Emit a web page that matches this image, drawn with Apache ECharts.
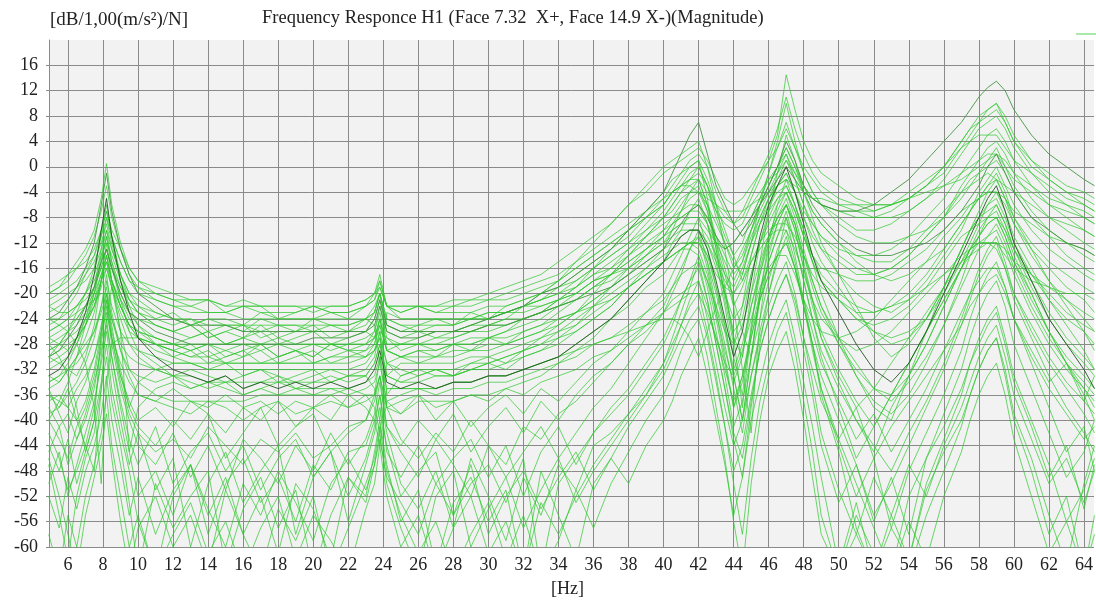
<!DOCTYPE html>
<html><head><meta charset="utf-8">
<script src="https://cdn.jsdelivr.net/npm/echarts@6/dist/echarts.min.js"></script>
<style>html,body{margin:0;padding:0;background:#fff}#c{width:1096px;height:603px}</style>
</head><body><div id="c"></div>
<script>
const freqHz = [4.9,5.5,6,6.5,7,7.5,7.9,8.2,8.5,9,
9.5,10,11,12,13,14,15,16,17,18,
19,20,21,22,23,23.5,23.8,24.2,25,26,
27,28,29,30,31,32,33,34,35,36,
37,38,39,40,40.5,41,41.5,42,42.5,43,
43.5,44,44.5,45,45.5,46,46.5,47,47.5,48,
48.5,49,50,51,52,53,54,55,56,57,
57.5,58,58.5,59,59.5,60,61,62,63,64,64.6];
const xTickLabels = [6,8,10,12,14,16,18,20,22,24,26,28,30,32,34,36,38,40,42,44,46,48,50,52,54,56,58,60,62,64];

const s01 = [-26,-25,-24,-22,-20,-17,-14,-12,-14,-18,
-21,-23,-25,-26,-27,-26,-28,-27,-26,-28,
-27,-26,-28,-27,-26,-27,-26,-27,-28,-27,
-26,-26,-25,-24,-23,-22,-21,-19,-17,-15,
-13,-11,-8,-5,-3,-1,1,2,0,-4,
-7,-9,-8,-5,-2,1,5,14.5,9,4,
1,-1,-3,-5,-6,-6,-5,-3,-1,3,
5,7,9,10,7,4,0,-2,-4,-5,-6];
const s02 = [-30,-29,-27,-25,-22,-19,-15,-13,-16,-20,
-23,-24,-26,-27,-28,-28,-28,-28,-28,-28,
-28,-27,-27,-27,-26,-25,-22,-26,-27,-27,
-26,-26,-25,-24,-23,-22,-20,-19,-17,-15,
-13,-10,-7,-4,-1,2,5,7,2,-3,
-6,-9,-11,-9,-6,-3,0,4,1,-3,
-6,-8,-11,-13,-14,-14,-13,-12,-10,-7,
-5,-3,0,2,-1,-4,-8,-10,-12,-13,-14];
const s03 = [-20,-19,-17,-15,-13,-10,-5,0.5,-6,-12,
-16,-18,-20,-21,-22,-21,-23,-22,-22,-24,
-23,-22,-23,-24,-22,-21,-18,-22,-23,-22,
-23,-23,-23,-22,-22,-21,-20,-19,-18,-16,
-14,-12,-10,-8,-6,-4,-2,0,-3,-8,
-12,-16,-14,-10,-6,-3,0,3,0,-4,
-7,-9,-12,-15,-17,-18,-17,-15,-13,-9,
-7,-4,-2,0,-3,-6,-10,-13,-15,-17,-18];
const s04 = [-24,-23,-21,-19,-16,-12,-6,-1,-7,-13,
-17,-20,-22,-24,-25,-25,-25,-26,-26,-26,
-26,-26,-26,-26,-26,-24,-21,-25,-26,-26,
-26,-26,-26,-25,-25,-24,-23,-22,-21,-20,
-19,-17,-15,-13,-11,-9,-7,-6,-8,-11,
-13,-12,-10,-8,-6,-4,-2,0,-2,-4,
-5,-6,-7,-7,-6,-4,-2,1,4,7,
9,11,12.5,13.5,12,9,5,2,0,-2,-3];
const s05 = [-28,-27,-26,-24,-22,-19,-16,-13,-16,-20,
-23,-25,-27,-28,-29,-28,-30,-29,-28,-30,
-29,-30,-28,-29,-28,-26,-22,-27,-29,-28,
-29,-28,-28,-27,-26,-25,-24,-22,-20,-18,
-16,-13,-10,-7,-5,-3,-1,0,-3,-7,
-11,-14,-12,-8,-5,-1,3,7,3,-1,
-4,-6,-9,-11,-12,-12,-11,-10,-8,-5,
-3,-1,1,3,0,-3,-7,-10,-12,-14,-15];
const s06 = [-32,-31,-30,-28,-25,-21,-17,-14,-18,-22,
-25,-27,-28,-29,-30,-30,-31,-31,-31,-31,
-31,-31,-30,-30,-30,-28,-24,-29,-30,-30,
-30,-30,-29,-29,-28,-27,-26,-25,-23,-21,
-19,-17,-14,-11,-9,-7,-5,-4,-6,-9,
-12,-15,-17,-12,-6,-1,4,10,4,-1,
-4,-6,-8,-10,-10,-9,-7,-5,-2,2,
4,6,7,8,6,3,-1,-4,-6,-8,-9];
const s07 = [-22,-21,-20,-19,-18,-16,-13,-10,-13,-17,
-20,-21,-23,-24,-24,-25,-25,-25,-25,-25,
-25,-25,-25,-25,-24,-23,-20,-24,-25,-25,
-25,-25,-24,-24,-23,-22,-21,-20,-18,-16,
-14,-12,-9,-6,-4,-2,0,1,-2,-6,
-10,-14,-18,-14,-9,-5,-2,1,-2,-6,
-9,-11,-14,-16,-17,-16,-14,-11,-8,-3,
-1,1,3,4,2,-1,-5,-8,-10,-12,-13];
const s08 = [-34,-33,-31,-28,-24,-19,-13,-8,-12,-18,
-22,-25,-28,-30,-31,-32,-31,-33,-32,-34,
-33,-32,-34,-33,-32,-30,-26,-31,-33,-32,
-33,-33,-32,-32,-31,-30,-29,-27,-25,-22,
-19,-16,-13,-10,-8,-6,-4,-3,-7,-13,
-20,-27,-30,-20,-12,-7,-3,-1,-4,-8,
-12,-15,-19,-23,-26,-28,-27,-24,-19,-13,
-10,-7,-4,-2,-5,-9,-14,-18,-21,-24,-26];
const s09 = [-42,-46,-51,-48,-44,-38,-30,-24,-30,-38,
-45,-52,-48,-55,-47,-58,-50,-46,-53,-49,
-56,-47,-51,-45,-44,-40,-36,-42,-50,-54,
-48,-57,-46,-52,-59,-49,-55,-47,-51,-44,
-42,-39,-36,-32,-29,-25,-21,-18,-24,-31,
-38,-44,-40,-33,-27,-22,-18,-15,-20,-27,
-34,-42,-51,-58,-49,-55,-47,-52,-44,-38,
-34,-30,-27,-25,-30,-36,-43,-50,-46,-53,-48];
const s10 = [-38,-41,-39,-43,-40,-35,-28,-22,-28,-35,
-40,-44,-47,-42,-49,-44,-51,-43,-46,-50,
-44,-48,-42,-47,-43,-39,-34,-41,-45,-49,
-43,-47,-52,-44,-49,-45,-41,-46,-42,-38,
-35,-31,-27,-23,-20,-17,-13,-10,-15,-22,
-28,-35,-42,-33,-26,-20,-15,-11,-16,-22,
-28,-33,-40,-47,-55,-50,-44,-38,-32,-25,
-21,-17,-14,-12,-16,-21,-27,-33,-38,-42,-45];
const s11 = [-47,-55,-62,-52,-46,-42,-35,-30,-37,-44,
-53,-64,-50,-57,-52,-48,-63,-54,-49,-57,
-51,-64,-55,-49,-52,-45,-40,-47,-56,-51,
-63,-53,-49,-56,-51,-64,-48,-55,-62,-50,
-46,-50,-44,-40,-37,-33,-30,-27,-33,-40,
-47,-55,-49,-40,-34,-28,-24,-21,-27,-34,
-41,-49,-63,-53,-64,-57,-62,-51,-45,-40,
-36,-32,-29,-27,-32,-39,-46,-55,-63,-50,-44];
const s12 = [-24,-24,-23,-22,-20,-18,-15,-11,-15,-19,
-22,-23,-24,-23,-25,-24,-24,-25,-23,-24,
-24,-24,-23,-23,-22,-20,-17,-22,-24,-24,
-24,-24,-24,-23,-23,-22,-21,-20,-19,-17,
-16,-14,-12,-10,-9,-8,-7,-6,-8,-11,
-14,-17,-15,-10,-6,-3,0,2,-1,-4,
-7,-9,-12,-14,-15,-15,-13,-10,-7,-4,
-3,-2,-1,-2,-3,-4,-6,-8,-9,-10,-11];
const s13 = [-30,-31,-32,-33,-30,-25,-18,-12,-18,-26,
-32,-34,-36,-37,-37,-37,-37,-37,-36,-36,
-36,-36,-36,-35,-36,-38,-42,-35,-35,-35,
-35,-34,-34,-33,-33,-32,-31,-30,-28,-26,
-24,-21,-18,-15,-12,-10,-7,-5,-9,-15,
-22,-30,-36,-25,-17,-11,-7,-4,-8,-13,
-18,-22,-28,-33,-37,-39,-36,-31,-25,-18,
-14,-11,-8,-6,-9,-13,-19,-24,-28,-31,-33];
const s14 = [-28,-30,-33,-38,-45,-40,-26,-18,-22,-26,
-28,-29,-30,-31,-31,-32,-32,-32,-32,-32,
-32,-32,-32,-32,-31,-29,-26,-36,-33,-32,
-32,-32,-31,-31,-30,-29,-28,-27,-26,-24,
-22,-19,-16,-13,-10,-7,-4,-2,-6,-11,
-16,-21,-26,-30,-20,-12,-6,-2,-6,-11,
-15,-18,-21,-24,-26,-27,-26,-24,-20,-15,
-12,-9,-6,-4,-7,-11,-16,-21,-25,-29,-32];
const s15 = [-27,-26,-25,-24,-22,-20,-17,-15,-18,-21,
-23,-24,-25,-26,-25,-27,-26,-25,-27,-26,
-26,-26,-26,-26,-25,-23,-20,-25,-26,-26,
-26,-26,-25,-25,-24,-24,-23,-22,-21,-19,
-18,-16,-14,-12,-10,-9,-8,-8,-10,-12,
-13,-12,-10,-8,-5,-2,0,3,0,-3,
-5,-6,-7,-8,-8,-7,-5,-3,0,4,
6,8,9,10,8,5,1,-2,-4,-6,-7];
const s16 = [-35,-34,-32,-30,-27,-23,-18,-15,-19,-24,
-28,-30,-32,-33,-33,-34,-34,-34,-34,-34,
-34,-34,-34,-33,-33,-31,-28,-33,-34,-34,
-33,-33,-32,-31,-30,-29,-27,-25,-23,-20,
-17,-14,-11,-8,-6,-4,-3,-2,-6,-12,
-19,-27,-38,-26,-15,-7,-1,5,1,-4,
-8,-12,-17,-22,-27,-30,-28,-24,-19,-13,
-10,-8,-6,-5,-8,-12,-17,-21,-24,-26,-28];
const s17 = [-36,-38,-35,-40,-37,-32,-26,-20,-25,-33,
-37,-40,-38,-41,-37,-39,-42,-38,-40,-37,
-41,-38,-40,-36,-38,-40,-44,-37,-39,-36,
-40,-37,-41,-38,-36,-39,-35,-37,-34,-31,
-29,-26,-23,-20,-17,-14,-11,-8,-13,-19,
-25,-32,-28,-22,-17,-12,-8,-5,-9,-15,
-21,-27,-34,-40,-45,-38,-33,-28,-22,-16,
-13,-10,-8,-7,-10,-14,-20,-26,-31,-36,-40];
const s18 = [-31,-30,-29,-27,-25,-22,-19,-16,-19,-23,
-26,-27,-28,-29,-30,-29,-31,-30,-29,-31,
-30,-29,-31,-30,-29,-28,-25,-29,-30,-31,
-30,-29,-29,-28,-28,-27,-26,-24,-23,-21,
-19,-17,-15,-13,-12,-11,-10,-10,-12,-16,
-20,-24,-22,-17,-12,-9,-6,-4,-7,-11,
-15,-18,-21,-24,-25,-24,-22,-19,-15,-11,
-10,-9,-8,-8,-10,-13,-17,-20,-23,-25,-26];
const s19 = [-20,-19,-18,-16,-14,-11,-7,-3,-8,-13,
-17,-19,-21,-22,-23,-23,-23,-24,-24,-24,
-24,-24,-24,-24,-24,-25,-31,-23,-24,-24,
-24,-24,-24,-23,-23,-22,-22,-21,-20,-18,
-17,-15,-13,-11,-9,-8,-7,-7,-9,-12,
-15,-18,-15,-11,-8,-5,-3,-2,-4,-7,
-9,-11,-13,-14,-14,-13,-11,-8,-5,-1,
1,3,5,6,4,1,-3,-6,-8,-10,-11];
const s20 = [-44,-48,-43,-50,-45,-40,-34,-28,-35,-42,
-48,-56,-64,-52,-47,-55,-49,-58,-52,-61,
-50,-54,-62,-49,-53,-47,-42,-50,-57,-64,
-52,-48,-60,-54,-49,-57,-51,-46,-53,-48,
-44,-40,-36,-31,-27,-23,-19,-15,-21,-28,
-35,-43,-49,-38,-28,-20,-14,-8,-14,-21,
-28,-36,-45,-57,-64,-55,-62,-50,-43,-36,
-31,-27,-24,-22,-27,-33,-40,-47,-56,-51,-46];
const s21 = [-33,-32,-30,-27,-23,-17,-10,-5,-11,-18,
-23,-27,-30,-32,-33,-34,-33,-35,-34,-35,
-34,-35,-34,-35,-34,-32,-29,-34,-35,-34,
-35,-34,-34,-33,-33,-32,-31,-30,-28,-26,
-24,-21,-18,-15,-13,-11,-10,-10,-13,-18,
-24,-30,-26,-18,-11,-6,-3,0,-4,-9,
-14,-18,-23,-28,-32,-34,-31,-26,-20,-14,
-11,-8,-5,-3,-7,-12,-18,-24,-28,-32,-35];
const s22 = [-40,-43,-46,-41,-38,-33,-27,-21,-27,-34,
-39,-42,-45,-43,-46,-41,-44,-47,-43,-45,
-42,-46,-44,-41,-40,-36,-30,-38,-43,-46,
-42,-45,-40,-44,-47,-41,-43,-39,-37,-34,
-31,-28,-25,-22,-19,-16,-13,-11,-16,-23,
-30,-38,-33,-26,-20,-15,-11,-7,-12,-18,
-24,-29,-35,-40,-44,-48,-42,-37,-31,-24,
-20,-16,-13,-11,-15,-20,-26,-31,-35,-39,-42];
const s23 = [-21,-20,-19,-18,-16,-14,-11,-8,-11,-15,
-18,-19,-20,-21,-21,-21,-22,-22,-22,-22,
-22,-22,-22,-22,-21,-20,-19,-22,-22,-22,
-22,-22,-21,-21,-20,-19,-18,-17,-15,-13,
-11,-9,-7,-5,-4,-3,-3,-4,-5,-6,
-7,-7,-7,-6,-5,-4,-3,-2,-3,-4,
-5,-5,-6,-6,-6,-6,-5,-4,-3,-2,
-1,0,1,2,1,-1,-3,-5,-6,-7,-8];
const s24 = [-29,-28,-27,-26,-24,-22,-18,-14,-18,-22,
-25,-26,-27,-28,-28,-28,-28,-28,-28,-28,
-28,-28,-28,-28,-28,-27,-24,-28,-28,-28,
-28,-27,-26,-25,-24,-22,-20,-18,-15,-12,
-9,-6,-3,0,1,2,3,4,0,-6,
-13,-22,-32,-42,-24,-14,-9,-6,-9,-14,
-19,-23,-28,-32,-35,-36,-33,-28,-22,-16,
-13,-11,-9,-8,-11,-15,-21,-26,-30,-33,-35];
const s25 = [-50,-45,-52,-47,-42,-37,-31,-26,-32,-40,
-47,-42,-51,-46,-60,-50,-45,-53,-48,-44,
-58,-49,-45,-56,-47,-42,-38,-44,-52,-48,
-45,-55,-50,-47,-53,-46,-64,-50,-46,-42,
-39,-36,-32,-28,-25,-21,-18,-14,-19,-26,
-33,-41,-37,-30,-24,-18,-13,-10,-15,-22,
-29,-35,-43,-50,-57,-64,-52,-46,-39,-32,
-27,-23,-20,-18,-22,-28,-35,-42,-49,-45,-40];
const s26 = [-30,-29,-28,-27,-25,-22,-18,-14,-18,-22,
-25,-26,-27,-28,-27,-26,-28,-27,-28,-27,
-28,-28,-28,-28,-27,-26,-23,-28,-28,-28,
-28,-28,-28,-27,-27,-26,-25,-24,-23,-22,
-21,-19,-17,-15,-14,-13,-12,-12,-14,-17,
-19,-20,-18,-15,-12,-10,-9,-9,-11,-14,
-17,-19,-21,-23,-23,-22,-21,-19,-17,-15,
-14,-13,-12,-12,-13,-15,-17,-19,-21,-23,-24];
const s27 = [-26,-25,-24,-23,-22,-21,-20,-20,-26,-32,
-38,-34,-32,-31,-31,-31,-31,-31,-31,-31,
-31,-31,-31,-31,-30,-29,-27,-33,-31,-31,
-31,-31,-30,-30,-29,-28,-27,-26,-24,-22,
-20,-18,-16,-14,-13,-12,-12,-13,-17,-23,
-29,-34,-30,-22,-16,-11,-8,-6,-10,-16,
-22,-27,-33,-38,-35,-31,-27,-23,-19,-15,
-13,-12,-12,-13,-16,-20,-25,-30,-34,-37,-39];
const s28 = [-39,-38,-36,-34,-31,-27,-22,-17,-23,-29,
-33,-36,-37,-38,-39,-37,-38,-40,-38,-37,
-39,-38,-37,-38,-36,-36,-33,-38,-39,-37,
-37,-37,-36,-36,-35,-34,-33,-31,-29,-27,
-24,-22,-19,-17,-15,-13,-12,-11,-14,-19,
-25,-33,-40,-30,-21,-15,-11,-8,-12,-18,
-24,-30,-38,-46,-41,-36,-31,-26,-21,-16,
-13,-11,-9,-8,-11,-15,-20,-26,-31,-35,-38];
const s29 = [-40,-37,-34,-30,-25,-20,-14,-10,-15,-21,
-26,-29,-31,-33,-34,-35,-34,-36,-35,-34,
-35,-35,-35,-35,-34,-33,-30,-35,-35,-35,
-35,-34,-34,-33,-33,-32,-31,-30,-29,-28,
-27,-26,-25,-24,-24,-25,-27,-30,-26,-22,
-19,-16,-13,-10,-7,-4,-1,2,-2,-6,
-10,-13,-17,-20,-22,-23,-21,-18,-14,-10,
-7,-5,-3,-1,-4,-8,-13,-18,-22,-26,-29];
const s30 = [-58,-64,-55,-60,-52,-47,-42,-36,-44,-52,
-60,-55,-64,-58,-53,-61,-56,-64,-57,-52,
-62,-55,-59,-64,-54,-50,-44,-52,-60,-55,
-64,-57,-52,-61,-56,-64,-53,-58,-52,-47,
-43,-39,-35,-31,-28,-25,-22,-20,-26,-33,
-41,-50,-58,-46,-37,-31,-26,-23,-29,-37,
-45,-55,-64,-58,-64,-60,-64,-55,-48,-41,
-36,-32,-29,-27,-33,-40,-48,-58,-52,-64,-55];
const s31 = [-23,-22,-21,-19,-17,-15,-12,-9,-13,-17,
-20,-22,-24,-25,-24,-26,-25,-26,-24,-25,
-26,-24,-25,-26,-24,-23,-20,-25,-26,-25,
-24,-25,-23,-24,-22,-21,-20,-18,-16,-14,
-12,-10,-8,-6,-4,-3,-2,-1,-3,-6,
-8,-9,-7,-4,-1,2,6,11,6,2,
-1,-3,-5,-6,-7,-6,-5,-3,0,4,
6,7,8,9,7,4,1,-1,-3,-4,-5];
const s32 = [-29,-28,-26,-25,-23,-21,-18,-16,-19,-22,
-25,-27,-29,-30,-29,-31,-30,-29,-31,-30,
-29,-31,-30,-29,-30,-29,-27,-31,-30,-29,
-30,-28,-29,-27,-28,-26,-25,-23,-21,-19,
-17,-14,-11,-8,-7,-5,-4,-4,-7,-12,
-17,-22,-19,-15,-13,-11,-10,-10,-13,-17,
-21,-24,-27,-29,-28,-26,-23,-20,-17,-14,
-13,-12,-12,-12,-14,-16,-18,-19,-20,-20,-21];
const s33 = [-35,-39,-42,-37,-34,-30,-25,-21,-27,-33,
-38,-41,-44,-40,-43,-39,-46,-42,-38,-44,
-41,-39,-45,-42,-40,-37,-33,-41,-44,-40,
-43,-39,-45,-41,-38,-42,-37,-40,-36,-33,
-31,-28,-26,-23,-21,-20,-19,-18,-22,-27,
-32,-37,-33,-27,-21,-17,-14,-12,-16,-21,
-26,-31,-37,-43,-39,-45,-40,-35,-29,-23,
-20,-18,-16,-16,-19,-24,-30,-35,-39,-43,-41];
const s34 = [-52,-57,-49,-54,-48,-44,-39,-33,-40,-47,
-55,-49,-58,-51,-47,-54,-60,-50,-55,-48,
-53,-59,-50,-46,-51,-47,-43,-49,-53,-58,
-50,-55,-47,-58,-52,-48,-54,-49,-45,-51,
-46,-41,-37,-33,-30,-27,-24,-22,-27,-34,
-41,-48,-44,-36,-29,-24,-20,-17,-22,-29,
-36,-44,-53,-47,-56,-49,-58,-46,-41,-35,
-31,-28,-25,-23,-28,-34,-41,-49,-44,-54,-47];
const s35 = [-34,-33,-32,-30,-28,-26,-23,-20,-24,-28,
-30,-31,-32,-33,-32,-33,-34,-33,-32,-33,
-34,-33,-32,-33,-33,-35,-40,-31,-32,-33,
-32,-33,-32,-31,-32,-30,-29,-28,-26,-24,
-22,-19,-17,-15,-14,-13,-12,-12,-15,-20,
-26,-33,-40,-30,-20,-13,-9,-6,-10,-16,
-21,-26,-32,-37,-41,-36,-31,-26,-21,-16,
-14,-12,-11,-10,-13,-17,-23,-28,-32,-35,-37];
const s36 = [-24,-25,-26,-28,-31,-38,-50,-34,-28,-27,
-27,-27,-28,-28,-29,-28,-29,-28,-29,-28,
-29,-28,-29,-28,-28,-27,-25,-29,-28,-28,
-27,-27,-26,-26,-25,-24,-23,-21,-19,-17,
-15,-13,-11,-9,-8,-7,-6,-6,-9,-14,
-20,-26,-24,-17,-12,-8,-5,-3,-6,-10,
-14,-17,-20,-22,-23,-22,-20,-17,-13,-9,
-7,-5,-3,-2,-5,-8,-12,-15,-17,-19,-20];
const s37 = [-36,-37,-38,-40,-44,-48,-35,-24,-19,-26,
-45,-38,-35,-34,-35,-34,-35,-36,-35,-36,
-35,-36,-35,-36,-35,-34,-31,-37,-36,-35,
-36,-35,-35,-34,-34,-33,-32,-31,-30,-28,
-27,-25,-23,-21,-19,-17,-16,-15,-18,-22,
-26,-28,-25,-20,-15,-11,-8,-6,-9,-14,
-18,-22,-27,-31,-35,-37,-34,-30,-25,-19,
-16,-13,-11,-9,-12,-16,-22,-27,-31,-34,-36];
const s38 = [-25,-24,-22,-20,-17,-14,-10,-7,-11,-15,
-18,-20,-21,-22,-22,-23,-23,-22,-23,-23,
-23,-22,-23,-23,-22,-21,-19,-22,-23,-22,
-22,-21,-21,-20,-19,-18,-17,-15,-13,-11,
-9,-6,-4,-1,0,1,2,3,1,-2,
-5,-6,-5,-3,-1,1,3,6,3,0,
-2,-4,-6,-7,-8,-8,-7,-5,-3,-1,
0,1,2,2,0,-2,-4,-6,-7,-8,-9];
const s39 = [-37,-36,-38,-35,-33,-30,-26,-23,-27,-31,
-34,-36,-37,-35,-37,-38,-36,-38,-37,-39,
-37,-38,-36,-38,-37,-36,-33,-38,-37,-36,
-38,-37,-36,-37,-35,-36,-34,-33,-32,-30,
-29,-27,-25,-23,-22,-21,-20,-20,-23,-27,
-31,-33,-29,-24,-19,-16,-14,-14,-17,-21,
-24,-26,-27,-26,-24,-21,-18,-15,-11,-8,
-6,-5,-4,-4,-6,-9,-13,-16,-19,-21,-23];
const s40 = [-33,-34,-32,-31,-29,-26,-22,-19,-24,-29,
-32,-33,-34,-33,-35,-34,-33,-35,-34,-33,
-35,-34,-33,-34,-33,-31,-28,-33,-34,-33,
-32,-33,-31,-30,-31,-29,-28,-26,-25,-23,
-21,-19,-17,-15,-14,-13,-13,-14,-18,-24,
-31,-38,-34,-27,-21,-17,-14,-12,-16,-22,
-28,-35,-44,-52,-46,-57,-48,-42,-36,-29,
-24,-20,-17,-15,-19,-24,-31,-38,-45,-41,-48];
const s41 = [-45,-41,-47,-43,-39,-34,-29,-25,-30,-37,
-43,-47,-41,-50,-45,-42,-48,-44,-51,-46,
-43,-49,-45,-52,-46,-41,-36,-45,-49,-44,
-50,-46,-43,-49,-44,-52,-45,-41,-47,-42,
-38,-35,-31,-27,-24,-21,-18,-16,-21,-28,
-35,-42,-46,-37,-29,-24,-20,-17,-21,-27,
-32,-37,-43,-38,-46,-41,-37,-33,-29,-25,
-22,-20,-18,-17,-20,-24,-29,-34,-31,-37,-33];
const s42 = [-19,-18,-17,-16,-15,-13,-10,-7,-10,-13,
-16,-18,-19,-20,-21,-21,-22,-21,-22,-22,
-22,-23,-22,-22,-21,-20,-18,-22,-22,-22,
-23,-22,-22,-21,-21,-20,-19,-18,-16,-14,
-12,-10,-8,-6,-4,-3,-2,-2,-4,-7,
-9,-10,-9,-6,-4,-2,-1,1,-1,-3,
-5,-6,-7,-7,-7,-6,-4,-2,0,3,
4,5,5,5,3,1,-1,-3,-5,-6,-7];
const s43 = [-27,-28,-29,-27,-24,-20,-15,-11,-16,-21,
-24,-26,-28,-29,-28,-30,-29,-30,-28,-30,
-29,-30,-28,-29,-29,-27,-24,-29,-30,-29,
-29,-28,-27,-27,-26,-24,-23,-21,-19,-16,
-13,-10,-7,-4,-2,-1,0,1,-5,-13,
-21,-28,-22,-14,-9,-6,-4,-3,-6,-10,
-15,-20,-27,-33,-38,-40,-33,-26,-19,-13,
-10,-8,-7,-6,-9,-13,-18,-23,-27,-30,-32];
const s44 = [-30,-28,-26,-23,-20,-16,-11,-6,-11,-17,
-21,-23,-25,-26,-25,-27,-26,-27,-25,-27,
-26,-25,-27,-26,-26,-24,-21,-26,-27,-26,
-27,-26,-26,-25,-25,-24,-23,-22,-21,-19,
-17,-16,-14,-12,-11,-10,-10,-10,-12,-15,
-18,-20,-17,-12,-8,-5,-3,-1,-4,-8,
-11,-13,-15,-17,-17,-16,-14,-11,-8,-4,
-2,-1,0,1,-1,-4,-8,-11,-14,-16,-17];
const s45 = [-46,-52,-58,-64,-55,-49,-44,-39,-46,-56,
-64,-57,-52,-60,-55,-63,-51,-58,-64,-54,
-59,-52,-64,-57,-50,-46,-41,-48,-55,-61,
-56,-64,-58,-53,-62,-55,-64,-59,-51,-57,
-50,-45,-40,-36,-33,-29,-26,-24,-30,-38,
-46,-56,-64,-50,-40,-33,-29,-26,-32,-40,
-49,-58,-64,-55,-61,-64,-56,-62,-52,-45,
-40,-36,-33,-31,-36,-43,-52,-61,-56,-64,-58];
const s46 = [-22,-23,-23,-22,-21,-19,-16,-13,-16,-19,
-21,-22,-23,-24,-25,-24,-25,-25,-26,-25,
-25,-26,-25,-25,-24,-22,-20,-24,-25,-26,
-25,-25,-24,-24,-23,-23,-22,-21,-20,-18,
-17,-15,-13,-11,-10,-9,-9,-9,-11,-14,
-17,-19,-16,-12,-9,-7,-5,-4,-7,-11,
-14,-16,-17,-18,-18,-17,-15,-13,-10,-7,
-6,-5,-4,-4,-5,-7,-9,-11,-12,-13,-14];

const curveNames = ['s09','s10','s11','s20','s22','s25','s30','s33','s34','s41','s45',
  's01','s03','s05','s06','s07','s08','s12','s13','s14','s15','s16','s17','s18','s19','s23','s24','s26','s27','s28','s29',
  's31','s32','s35','s36','s37','s38','s39','s40','s42','s43','s44','s46','s02','s04','s21'];
const curves = {s01,s02,s03,s04,s05,s06,s07,s08,s09,s10,s11,s12,s13,s14,s15,s16,s17,s18,s19,s20,s21,s22,s23,s24,s25,s26,s27,s28,s29,s30,
  s31,s32,s33,s34,s35,s36,s37,s38,s39,s40,s41,s42,s43,s44,s45,s46};

function colorFor(name){
  if (name === 's21') return 'rgba(35,85,35,0.9)';
  if (name === 's02' || name === 's04') return 'rgba(70,150,70,0.9)';
  return 'rgba(45,200,45,0.7)';
}

const FONT = 'Liberation Serif';
const series = curveNames.map(name => ({
  type: 'line',
  name: name,
  data: freqHz.map((f, k) => [f, curves[name][k]]),
  showSymbol: false,
  symbol: 'none',
  silent: true,
  clip: true,
  lineStyle: { width: 1, color: colorFor(name) },
  emphasis: { disabled: true }
}));

const chart = echarts.init(document.getElementById('c'), null, { renderer: 'canvas' });
chart.setOption({
  animation: false,
  backgroundColor: '#ffffff',
  grid: { left: 49, right: 0, top: 40, bottom: 51, show: true, backgroundColor: '#f2f2f2', borderWidth: 0 },
  xAxis: {
    type: 'value', min: 4.9175, max: 64.57,
    axisLine: { show: true, lineStyle: { color: '#8a8a8a', width: 1 } },
    axisTick: { show: true, length: 4, customValues: xTickLabels, lineStyle: { color: '#8a8a8a' } },
    axisLabel: { customValues: xTickLabels, fontFamily: FONT, fontSize: 18, color: '#222', margin: 9 },
    splitLine: { show: true, lineStyle: { color: '#8a8a8a', width: 1 } },
    name: '[Hz]', nameLocation: 'middle', nameGap: 33,
    nameTextStyle: { fontFamily: FONT, fontSize: 18, color: '#222', padding: [0, 8, 0, 0] }
  },
  yAxis: {
    type: 'value', min: -60, max: 20, interval: 4,
    axisLine: { show: true, lineStyle: { color: '#8a8a8a', width: 1 } },
    axisTick: { show: true, length: 3, lineStyle: { color: '#8a8a8a' } },
    axisLabel: { showMaxLabel: false, fontFamily: FONT, fontSize: 18, color: '#222', margin: 11 },
    splitLine: { show: true, showMaxLine: false, lineStyle: { color: '#8a8a8a', width: 1 } }
  },
  title: {
    text: 'Frequency Responce H1 (Face 7.32  X+, Face 14.9 X-)(Magnitude)',
    left: 262, top: 9, padding: 0,
    textStyle: { fontFamily: FONT, fontSize: 18.5, fontWeight: 'normal', color: '#222' }
  },
  graphic: [
    { type: 'text', left: 50, top: 11, style: { text: '[dB/1,00(m/s²)/N]', font: '19px "Liberation Serif"', fill: '#222' } },
    { type: 'line', shape: { x1: 1076, y1: 34, x2: 1096, y2: 34 }, style: { stroke: 'rgba(45,200,45,0.8)', lineWidth: 1 } }
  ],
  series: series
});
</script>
</body></html>
